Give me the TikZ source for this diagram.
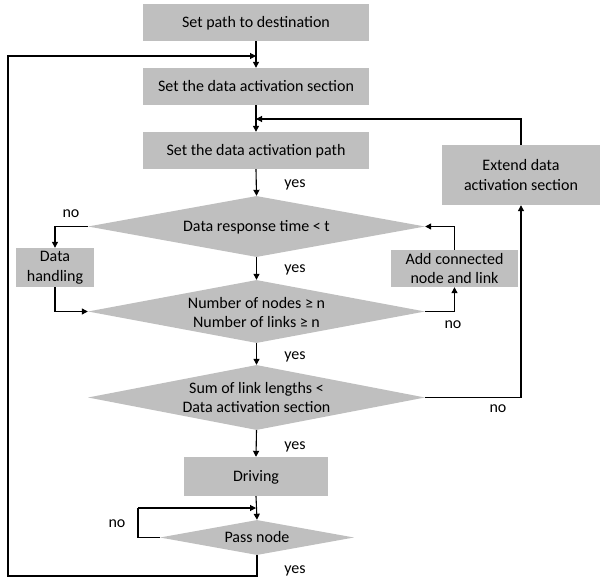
\documentclass[tikz,border=0pt]{standalone}
\usepackage{fontspec}
\setmainfont{Carlito}
\usetikzlibrary{arrows.meta,shapes.geometric}
\definecolor{boxgray}{RGB}{191,191,191}
\begin{document}
\begin{tikzpicture}[x=1pt,y=-1pt,
  every node/.style={font=\fontsize{16}{19.5}\selectfont, align=center, inner sep=0pt},
  procbox/.style={fill=boxgray, rectangle},
  decis/.style={fill=boxgray, diamond},
  oneline/.style={text height=10.1pt, text depth=0pt},
  lbl/.style={font=\fontsize{16}{19.5}\selectfont, anchor=base},
  conn/.style={draw=black, line width=1.1pt},
  arr/.style={conn, -{Triangle[length=6pt,width=6pt]}}]
\useasboundingbox (0,0) rectangle (603,583);
% boxes
\node[procbox, oneline, minimum width=226pt, minimum height=37pt] (b1) at (256,22.5) {Set path to destination};
\node[procbox, oneline, minimum width=226pt, minimum height=37pt] (b2) at (256,86.5) {Set the data activation section};
\node[procbox, oneline, minimum width=226pt, minimum height=37pt] (b3) at (256,150.5) {Set the data activation path};
\node[procbox, minimum width=78pt, minimum height=39pt] (dh) at (55,267.5) {Data\\handling};
\node[procbox, minimum width=127pt, minimum height=37pt] (add) at (454.5,268.5) {Add connected\\node and link};
\node[procbox, minimum width=158pt, minimum height=60pt] (ext) at (521,175) {Extend data\\activation section};
\node[procbox, oneline, minimum width=144pt, minimum height=39pt] (drv) at (256,476.5) {Driving};
% diamonds
\node[decis, minimum width=337pt, minimum height=61pt] (d1) at (256.5,226.5) {};
\node[oneline] (d1t) at (d1) {Data response time < t};
\node[decis, minimum width=337pt, minimum height=63pt] (d2) at (256.5,311.5) {};
\node (d2t) at ([yshift=-1pt]d2.center) {Number of nodes ≥ n\\Number of links ≥ n};
\node[decis, minimum width=337pt, minimum height=65pt] (d3) at (256.5,397.5) {};
\node (d3t) at (d3) {Sum of link lengths <\\Data activation section};
\node[decis, minimum width=194pt, minimum height=35pt] (pn) at (257,537.5) {};
\node[oneline] (pnt) at (pn) {Pass node};
% junction coordinates
\coordinate (j1) at (256,56);
\coordinate (j2) at (256,119);
\coordinate (j3) at (256,508);
\coordinate (nl) at (138,508);
\coordinate (yl) at (8,576);
% main flow
\draw[arr] (b1.south) -- (b2.north);
\draw[arr] (b2.south) -- (b3.north);
\draw[arr] (b3.south) -- (d1.north);
\draw[arr] (d1.south) -- (d2.north);
\draw[arr] (d2.south) -- (d3.north);
\draw[arr] (d3.south) -- (drv.north);
\draw[arr] (drv.south) -- (pn.north);
% side branches
\draw[arr] (d1.west) -| (dh.north);
\draw[arr] (dh.south) |- (d2.west);
\draw[arr] (d2.east) -| (add.south);
\draw[arr] (add.north) |- (d1.east);
\draw[arr] (d3.east) -| (ext.south);
\draw[arr] (ext.north) |- (j2);
\draw[conn] (pn.west) -| (nl);
\draw[arr] (nl) -- (j3);
\draw[arr] (pn.south) |- (yl) |- (j1);
% labels
\node[lbl] (y1) at (295,187.5) {yes};
\node[lbl] (y2) at (295,272.5) {yes};
\node[lbl] (y3) at (295,359.5) {yes};
\node[lbl] (y4) at (295,449.5) {yes};
\node[lbl] (y5) at (295,573) {yes};
\node[lbl] (n1) at (71,218) {no};
\node[lbl] (n2) at (453,328) {no};
\node[lbl] (n3) at (498,412) {no};
\node[lbl] (n4) at (117,527.5) {no};
\end{tikzpicture}
\end{document}
